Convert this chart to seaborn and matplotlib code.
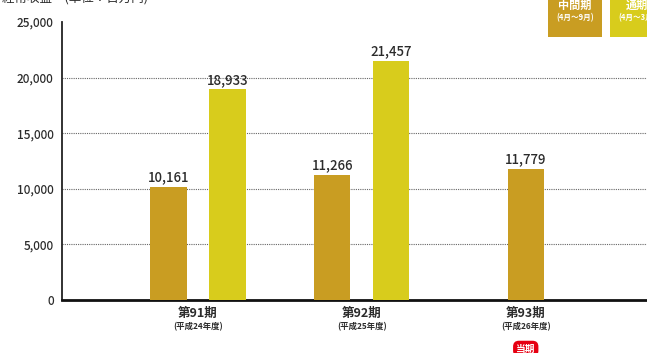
import numpy as np
import pandas as pd
import matplotlib
matplotlib.use("Agg")
import matplotlib.pyplot as plt
from matplotlib.patches import Rectangle
import seaborn as sns

# Data
periods = ["第91期", "第92期", "第93期"]
fiscal_years = ["(平成24年度)", "(平成25年度)", "(平成26年度)"]
series = ["中間期", "通期"]
series_sub = ["(4月～9月)", "(4月～3月)"]
interim = [10161, 11266, 11779]
full_year = [18933, 21457, np.nan]

sns.set_theme(style="white")
plt.rcParams["font.family"] = ["Noto Sans CJK JP", "DejaVu Sans"]

colors = {"中間期": "#C99D22", "通期": "#D8CC1C"}
text_color = "#2b2b2b"

# Long table; bars inside each period are spread around its centre
rows = []
spacing = 0.36
for i, p in enumerate(periods):
    vals = [(s, v) for s, v in zip(series, [interim[i], full_year[i]]) if not np.isnan(v)]
    n = len(vals)
    for k, (s, v) in enumerate(vals):
        rows.append({"period": p, "series": s, "value": v,
                     "pos": i + (k - (n - 1) / 2) * spacing})
df = pd.DataFrame(rows)

bar_w = 0.22
rel_w = bar_w / np.diff(np.unique(df["pos"])).min()

fig = plt.figure(figsize=(6.47, 3.53), dpi=100)
ax = fig.add_axes([62 / 647, 1 - 300 / 353, 1 - 62 / 647, (300 - 22) / 353])

sns.barplot(data=df, x="pos", y="value", hue="series", hue_order=series,
            palette=colors, native_scale=True, dodge=False, width=rel_w,
            saturation=1, legend=False, ax=ax, zorder=3, linewidth=0)

for cont in ax.containers:
    ax.bar_label(cont, labels=[f"{v:,.0f}" for v in cont.datavalues],
                 padding=2, fontsize=9.5, color=text_color, fontweight="medium")

ax.set_ylim(0, 25000)
ax.set_xlim(-0.83, 2.74)
ax.set_yticks(np.arange(0, 25001, 5000))
ax.set_yticklabels([f"{v:,}" for v in range(0, 25001, 5000)],
                   fontsize=8.5, color=text_color, fontweight="medium")
ax.set_xticks(range(len(periods)))
ax.set_xticklabels(periods, fontsize=9, fontweight="bold", color=text_color)
ax.tick_params(axis="x", length=0, pad=5)
ax.tick_params(axis="y", direction="in", length=4, width=1, color="#222222", pad=6)
ax.set_xlabel("")
ax.set_ylabel("")

for y in range(5000, 25000, 5000):
    ax.axhline(y, color="#666666", linewidth=0.8, linestyle=(0, (1, 1)), zorder=1)

for side in ["top", "right"]:
    ax.spines[side].set_visible(False)
ax.spines["left"].set_color("#222222")
ax.spines["left"].set_linewidth(1.3)
ax.spines["bottom"].set_color("#111111")
ax.spines["bottom"].set_linewidth(2)

for i, fy in enumerate(fiscal_years):
    ax.text(i, -0.095, fy, transform=ax.get_xaxis_transform(), ha="center",
            va="center", fontsize=6, color=text_color, fontweight="bold")

# Current-period badge
ax.text(2, -0.175, "当期", transform=ax.get_xaxis_transform(), ha="center",
        va="center", fontsize=7, color="white", fontweight="bold",
        bbox=dict(boxstyle="round,pad=0.3,rounding_size=0.6",
                  fc="#E60012", ec="none"), clip_on=False)

# Title
fig.text(2 / 647, 1 - 6 / 353, "経常収益　(単位：百万円)", ha="left", va="bottom",
         fontsize=9, color=text_color)

# Series key boxes
box_w = 54 / 647
box_bottom = 1 - 37 / 353
for k, (s, sub) in enumerate(zip(series, series_sub)):
    x0 = (548 + k * 62) / 647
    fig.patches.append(Rectangle((x0, box_bottom), box_w, 1 - box_bottom + 0.05,
                                 transform=fig.transFigure, fc=colors[s],
                                 ec="none", zorder=5))
    fig.text(x0 + box_w / 2, 1 - 5 / 353, s, ha="center", va="center",
             fontsize=8, color="white", fontweight="bold", zorder=6)
    fig.text(x0 + box_w / 2, 1 - 18 / 353, sub, ha="center", va="center",
             fontsize=5.5, color="white", fontweight="bold", zorder=6)

fig.savefig("out.png", dpi=100)
